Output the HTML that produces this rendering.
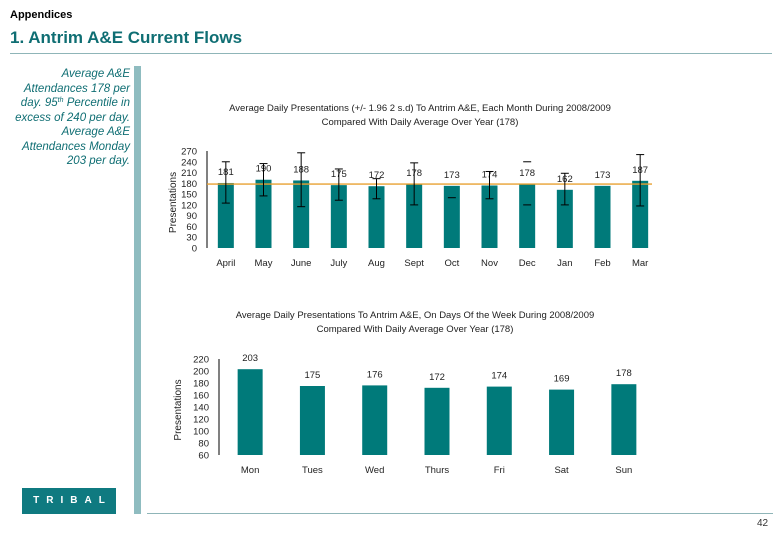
<!DOCTYPE html>
<html><head><meta charset="utf-8"><style>
body{margin:0;width:780px;height:540px;background:#fff;position:relative;overflow:hidden;font-family:"Liberation Sans",sans-serif}
.abs{position:absolute}
</style></head><body>
<div class="abs" style="left:10px;top:9px;font-size:11px;font-weight:bold;color:#000">Appendices</div>
<div class="abs" style="left:10px;top:28px;font-size:17px;font-weight:bold;color:#0f6e73">1. Antrim A&amp;E Current Flows</div>
<div class="abs" style="left:10px;top:53px;width:762px;height:1px;background:#8fb5b8"></div>
<div class="abs" style="left:0;top:67px;width:130px;text-align:right;font-size:11.5px;line-height:14.5px;font-style:italic;color:#0f6e73;white-space:nowrap">Average A&amp;E<br>Attendances 178 per<br>day. 95<span style="font-size:7px;vertical-align:4px;line-height:0">th</span> Percentile in<br>excess of 240 per day.<br>Average A&amp;E<br>Attendances Monday<br>203 per day.</div>
<div class="abs" style="left:134px;top:66px;width:7px;height:448px;background:#8fbcc0"></div>
<div class="abs" style="left:147px;top:513px;width:626px;height:1px;background:#8fb5b8"></div>
<div class="abs" style="left:22px;top:488px;width:94px;height:26px;background:#0f7a80;color:#fff;font-size:10px;font-weight:bold;letter-spacing:7px;line-height:26px;text-align:center;padding-left:7px;box-sizing:border-box">TRIBAL</div>
<div class="abs" style="left:757px;top:518px;font-size:10px;color:#333">42</div>
<svg class="abs" style="left:0;top:0" width="780" height="540" id="svg"></svg>
<script>
const months=["April","May","June","July","Aug","Sept","Oct","Nov","Dec","Jan","Feb","Mar"];
const monthVals=[181,190,188,175,172,178,173,174,178,162,173,187];
const errHi=[240,235,265,220,193,237,null,213,240,208,null,260];
const errLo=[125,145,115,133,137,120,140,137,120,120,null,117];
const monthAvg=178;
const monthTicks=[0,30,60,90,120,150,180,210,240,270];
const days=["Mon","Tues","Wed","Thurs","Fri","Sat","Sun"];
const dayVals=[203,175,176,172,174,169,178];
const dayTicks=[60,80,100,120,140,160,180,200,220];

const svg=document.getElementById('svg');const NS="http://www.w3.org/2000/svg";
function el(t,a,txt){const e=document.createElementNS(NS,t);for(const k in a)e.setAttribute(k,a[k]);if(txt!==undefined)e.textContent=txt;svg.appendChild(e);return e;}
const F='"Liberation Sans",sans-serif';
// Chart 1
{
const x0=207,x1=659,yb=248,yt=151,ymax=270;
const y=v=>yb-(v/ymax)*(yb-yt);const bw=(x1-x0)/months.length;const cx=i=>x0+bw*(i+0.5);
let t=el('text',{x:420,y:111,'font-size':9.5,'text-anchor':'middle','font-family':F,fill:'#222'},'Average Daily Presentations (+/- 1.96 2 s.d) To Antrim A&E, Each Month During 2008/2009');

t=el('text',{x:420,y:125,'font-size':9.5,'text-anchor':'middle','font-family':F,fill:'#222'},'Compared With Daily Average Over Year (178)');

let a=el('line',{x1:x0,y1:yt,x2:x0,y2:yb,stroke:'#000','stroke-width':1});

monthTicks.forEach(v=>{const e=el('text',{x:197,y:y(v)+3.5,'font-size':9.5,'text-anchor':'end','font-family':F,fill:'#222'},v);
});
t=el('text',{x:0,y:0,'font-size':10,'text-anchor':'middle','font-family':F,fill:'#222',transform:`translate(176,${(yb+yt)/2+3}) rotate(-90)`},'Presentations');

months.forEach((m,i)=>{
 const b=el('rect',{x:cx(i)-8,y:y(monthVals[i]),width:16,height:yb-y(monthVals[i]),fill:'#007a7a'});
 
 const l=el('text',{x:cx(i),y:y(monthVals[i])-8,'font-size':9.5,'text-anchor':'middle','font-family':F,fill:'#222'},monthVals[i]);
 
 const xl=el('text',{x:cx(i),y:266,'font-size':9.5,'text-anchor':'middle','font-family':F,fill:'#222'},m);
 
});
const avg=el('line',{x1:x0,x2:652,y1:y(monthAvg),y2:y(monthAvg),stroke:'#e8a030','stroke-width':1.3});

months.forEach((m,i)=>{
 const hi=errHi[i],lo=errLo[i];if(hi==null&&lo==null)return;
 if(hi!=null&&lo!=null&&i!==8){const e=el('line',{x1:cx(i),x2:cx(i),y1:y(hi),y2:y(lo),stroke:'#000','stroke-width':1});
 }
 [hi,lo].forEach(v=>{if(v==null)return;const c=el('line',{x1:cx(i)-4,x2:cx(i)+4,y1:y(v),y2:y(v),stroke:'#000','stroke-width':1});
 });
});
}
// Chart 2
{
const x0=219,x1=655,yb=455,yt=359,ymin=60,ymax=220;
const y=v=>yb-((v-ymin)/(ymax-ymin))*(yb-yt);const bw=(x1-x0)/days.length;const cx=i=>x0+bw*(i+0.5);
let t=el('text',{x:415,y:318,'font-size':9.5,'text-anchor':'middle','font-family':F,fill:'#222'},'Average Daily Presentations To Antrim A&E, On Days Of the Week During 2008/2009');

t=el('text',{x:415,y:332,'font-size':9.5,'text-anchor':'middle','font-family':F,fill:'#222'},'Compared With Daily Average Over Year (178)');

let a=el('line',{x1:x0,y1:yt,x2:x0,y2:yb,stroke:'#000','stroke-width':1});

dayTicks.forEach(v=>{const e=el('text',{x:209,y:y(v)+3.5,'font-size':9.5,'text-anchor':'end','font-family':F,fill:'#222'},v);
});
t=el('text',{x:0,y:0,'font-size':10,'text-anchor':'middle','font-family':F,fill:'#222',transform:`translate(181,${(yb+yt)/2+3}) rotate(-90)`},'Presentations');

days.forEach((d,i)=>{
 const b=el('rect',{x:cx(i)-12.5,y:y(dayVals[i]),width:25,height:yb-y(dayVals[i]),fill:'#007a7a'});
 
 const l=el('text',{x:cx(i),y:y(dayVals[i])-8,'font-size':9.5,'text-anchor':'middle','font-family':F,fill:'#222'},dayVals[i]);
 
 const xl=el('text',{x:cx(i),y:473,'font-size':9.5,'text-anchor':'middle','font-family':F,fill:'#222'},d);
 
});
}
</script>
</body></html>
